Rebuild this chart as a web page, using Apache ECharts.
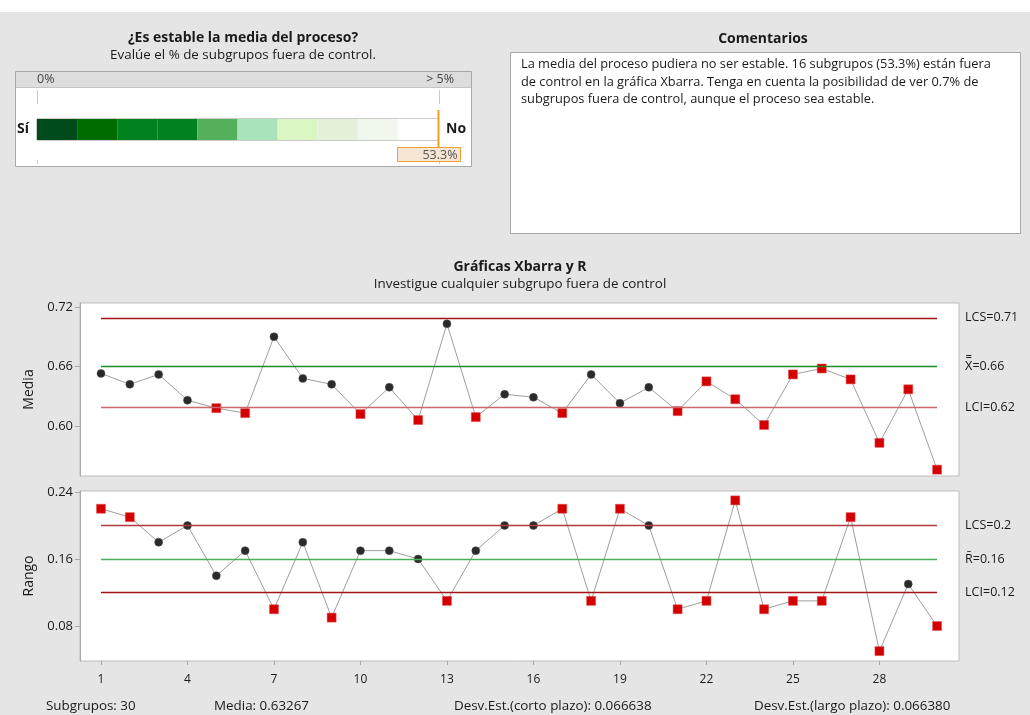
<!DOCTYPE html>
<html>
<head>
<meta charset="utf-8">
<script src="https://cdn.jsdelivr.net/npm/echarts@6/dist/echarts.min.js"></script>
<style>
  html, body { margin: 0; padding: 0; background: #e5e5e5; }
  #chart { width: 1030px; height: 715px; }
</style>
</head>
<body>
<div id="chart"></div>
<script>
// Subgroup means (Xbarra) and ranges (R), subgroups 1..30
const subgroups = [1,2,3,4,5,6,7,8,9,10,11,12,13,14,15,16,17,18,19,20,21,22,23,24,25,26,27,28,29,30];
const xbarValues = [0.653,0.642,0.652,0.626,0.618,0.613,0.690,0.648,0.642,0.612,0.639,0.606,0.703,0.609,0.632,
                    0.629,0.613,0.652,0.623,0.639,0.615,0.645,0.627,0.601,0.652,0.658,0.647,0.583,0.637,0.556];
const rangeValues = [0.22,0.21,0.18,0.20,0.14,0.17,0.10,0.18,0.09,0.17,0.17,0.16,0.11,0.17,0.20,
                     0.20,0.22,0.11,0.22,0.20,0.10,0.11,0.23,0.10,0.11,0.11,0.21,0.05,0.13,0.08];
// Subgroups flagged by the special-cause tests
const xbarFlagged = [5,6,10,12,14,17,21,22,23,24,25,26,27,28,29,30];
const rangeFlagged = [1,2,7,9,13,17,18,19,21,22,23,24,25,26,27,28,30];
// Control limits: [LCS, centre, LCI]
const xbarLimits = [0.709, 0.66, 0.619];
const rangeLimits = [0.20, 0.16, 0.12];
// Axis ticks
const xTicks = [1,4,7,10,13,16,19,22,25,28];
const xbarTicks = [0.60, 0.66, 0.72];
const rangeTicks = [0.08, 0.16, 0.24];
// Stability gauge: share of out-of-control subgroups against a 0%..>5% scale
const pctOut = 53.3;
const gaugeMax = 5;
const gaugeSteps = [0.5,0.5,0.5,0.5,0.5,0.5,0.5,0.5,0.5,0.5];
const gaugeColors = ['#004b1b','#006c00','#00821f','#00821f','#55b05c','#a9e3bb','#d9f6c3','#e4f0da','#f0f8ee','#ffffff'];
// Summary statistics
const statLabels = ['Subgrupos: ', 'Media: ', 'Desv.Est.(corto plazo): ', 'Desv.Est.(largo plazo): '];
const statValues = [subgroups.length, '0.63267', '0.066638', '0.066380'];
const commentLines = [
  'La media del proceso pudiera no ser estable. 16 subgrupos (53.3%) están fuera',
  'de control en la gráfica Xbarra. Tenga en cuenta la posibilidad de ver 0.7% de',
  'subgrupos fuera de control, aunque el proceso sea estable.'
];

const FONT = '"Open Sans", "Noto Sans", sans-serif';
const TXT = '#1a1a1a';
const fmt = v => String(parseFloat(v.toFixed(2)));

function pointItems(values, flagged) {
  return values.map((v, i) => {
    const bad = flagged.indexOf(i + 1) >= 0;
    return {
      value: [subgroups[i], v],
      symbol: bad ? 'rect' : 'circle',
      symbolSize: bad ? 9 : 8,
      itemStyle: { color: bad ? '#d40000' : '#2a2a2a', borderColor: bad ? '#e05050' : '#555', borderWidth: 0.5 }
    };
  });
}

function limitLines(limits, names, colors) {
  return limits.map((v, k) => [
    {
      coord: [subgroups[0], v],
      lineStyle: { color: colors[k], width: 1.3, type: 'solid', opacity: 1 },
      label: {
        show: true, position: 'end', distance: 28, formatter: names[k] + fmt(v),
        color: TXT, fontFamily: FONT, fontSize: 12.5
      }
    },
    { coord: [subgroups[subgroups.length - 1], v] }
  ]);
}

const xAxisBase = {
  type: 'value', min: 0.272, max: 30.76,
  splitLine: { show: false },
  axisLine: { show: false }
};
const yAxisBase = {
  type: 'value',
  splitLine: { show: false },
  axisLine: { show: true, lineStyle: { color: '#a8a8a8' } },
  axisTick: { show: true, length: 5, lineStyle: { color: '#a8a8a8' } },
  axisLabel: { color: TXT, fontFamily: FONT, fontSize: 13, margin: 7 },
  nameLocation: 'middle', nameGap: 44, nameRotate: 90,
  nameTextStyle: { color: TXT, fontFamily: FONT, fontSize: 14 }
};

const gaugeSeries = gaugeSteps.map((s, i) => ({
  type: 'bar', xAxisIndex: 2, yAxisIndex: 2, stack: 'gauge', barWidth: '100%',
  data: [s], itemStyle: { color: gaugeColors[i] }, silent: true, animation: false
}));

const chart = echarts.init(document.getElementById('chart'), null, { renderer: 'canvas' });

const option = {
  animation: false,
  backgroundColor: '#e5e5e5',
  grid: [
    { left: 80, top: 303, width: 879, height: 173, show: true, backgroundColor: '#ffffff', borderColor: '#bdbdbd', borderWidth: 1 },
    { left: 80, top: 491, width: 879, height: 170, show: true, backgroundColor: '#ffffff', borderColor: '#bdbdbd', borderWidth: 1 },
    { left: 37, top: 119, width: 401, height: 21, show: true, backgroundColor: '#ffffff', borderColor: '#9a9a9a', borderWidth: 1 }
  ],
  xAxis: [
    Object.assign({}, xAxisBase, { gridIndex: 0, axisTick: { show: false }, axisLabel: { show: false } }),
    Object.assign({}, xAxisBase, {
      gridIndex: 1,
      axisTick: { show: true, length: 4, lineStyle: { color: '#a8a8a8' }, customValues: xTicks },
      axisLabel: { show: true, customValues: xTicks, color: TXT, fontFamily: FONT, fontSize: 12, margin: 13 }
    }),
    { type: 'value', gridIndex: 2, min: 0, max: gaugeMax, show: false }
  ],
  yAxis: [
    Object.assign({}, yAxisBase, {
      gridIndex: 0, min: 0.5496, max: 0.724, name: 'Media',
      axisLabel: Object.assign({}, yAxisBase.axisLabel, { customValues: xbarTicks, formatter: v => v.toFixed(2) }),
      axisTick: Object.assign({}, yAxisBase.axisTick, { customValues: xbarTicks })
    }),
    Object.assign({}, yAxisBase, {
      gridIndex: 1, min: 0.0382, max: 0.2412, name: 'Rango',
      axisLabel: Object.assign({}, yAxisBase.axisLabel, { customValues: rangeTicks, formatter: v => v.toFixed(2) }),
      axisTick: Object.assign({}, yAxisBase.axisTick, { customValues: rangeTicks })
    }),
    { type: 'category', gridIndex: 2, data: [''], show: false }
  ],
  series: [
    {
      type: 'line', xAxisIndex: 0, yAxisIndex: 0, data: [], z: 1, silent: true,
      markLine: { symbol: 'none', silent: true, animation: false,
        data: limitLines(xbarLimits, ['LCS=', 'X\u033F=', 'LCI='], ['#a31515', '#1e8a28', '#c96a6a']) }
    },
    {
      type: 'line', xAxisIndex: 0, yAxisIndex: 0, z: 3,
      data: pointItems(xbarValues, xbarFlagged),
      lineStyle: { color: '#9e9e9e', width: 1 }
    },
    {
      type: 'line', xAxisIndex: 1, yAxisIndex: 1, data: [], z: 1, silent: true,
      markLine: { symbol: 'none', silent: true, animation: false,
        data: limitLines(rangeLimits, ['LCS=', 'R\u0304=', 'LCI='], ['#b03a3a', '#4caf5a', '#a31515']) }
    },
    {
      type: 'line', xAxisIndex: 1, yAxisIndex: 1, z: 3,
      data: pointItems(rangeValues, rangeFlagged),
      lineStyle: { color: '#9e9e9e', width: 1 }
    }
  ].concat(gaugeSeries)
};

chart.setOption(option);

// Indicator position on the gauge scale (values beyond the scale sit at its end)
const ind = chart.convertToPixel({ xAxisIndex: 2, yAxisIndex: 2 }, [Math.min(pctOut, gaugeMax), 0]);
const ix = Math.round(ind[0]) + 0.5;

const t = (x, y, text, extra, z) => ({
  type: 'text', x: x, y: y, silent: true, z: z || 10,
  style: Object.assign({ text: text, fill: TXT, font: '12px ' + FONT, textVerticalAlign: 'middle' }, extra || {})
});
const SUB = '13.4px ' + FONT;

const statX = [46, 214, 454, 754];
const graphics = [
  // top white band
  { type: 'rect', shape: { x: 0, y: 0, width: 1030, height: 12 }, style: { fill: '#ffffff' }, silent: true, z: -10 },

  // stability panel
  t(243, 38, '¿Es estable la media del proceso?', { font: 'bold 14px ' + FONT, textAlign: 'center' }),
  t(243, 55, 'Evalúe el % de subgrupos fuera de control.', { font: SUB, textAlign: 'center' }),
  { type: 'rect', shape: { x: 15.5, y: 71.5, width: 456, height: 95 }, style: { fill: '#ffffff', stroke: '#a8a8a8', lineWidth: 1 }, silent: true, z: -5 },
  { type: 'rect', shape: { x: 16, y: 72, width: 455, height: 15 }, style: { fill: '#dddddd' }, silent: true, z: -4 },
  { type: 'line', shape: { x1: 16, y1: 87.5, x2: 471, y2: 87.5 }, style: { stroke: '#c4c4c4', lineWidth: 1 }, silent: true, z: -4 },
  t(37, 79, '0%', { font: '12.5px ' + FONT, fill: '#444' }),
  t(454, 79, '> 5%', { font: '12.5px ' + FONT, fill: '#444', textAlign: 'right' }),
  { type: 'line', shape: { x1: 37.5, y1: 90, x2: 37.5, y2: 164 }, style: { stroke: '#c8c8c8', lineWidth: 1, lineDash: [14, 56] }, silent: true, z: -3 },
  { type: 'line', shape: { x1: 439.5, y1: 90, x2: 439.5, y2: 164 }, style: { stroke: '#c8c8c8', lineWidth: 1, lineDash: [14, 56] }, silent: true, z: -3 },
  t(17, 129, 'Sí', { font: 'bold 14px ' + FONT }),
  t(446, 129, 'No', { font: 'bold 14px ' + FONT }),
  { type: 'line', shape: { x1: ix, y1: 110, x2: ix, y2: 147 }, style: { stroke: '#f0a020', lineWidth: 2 }, silent: true, z: 50 },
  { type: 'rect', shape: { x: ix - 41, y: 147.5, width: 63, height: 14 }, style: { fill: '#f6e5d3', stroke: '#f0a030', lineWidth: 1 }, silent: true, z: 50 },
  t(ix + 19, 155, pctOut.toFixed(1) + '%', { fill: '#555', textAlign: 'right', font: '12.5px ' + FONT }, 60),

  // comments panel
  t(763, 39, 'Comentarios', { font: 'bold 14px ' + FONT, textAlign: 'center' }),
  { type: 'rect', shape: { x: 510.5, y: 52.5, width: 510, height: 181 }, style: { fill: '#ffffff', stroke: '#a8a8a8', lineWidth: 1 }, silent: true, z: -5 },
  t(521, 64, commentLines[0], { font: '12.8px ' + FONT }),
  t(521, 82, commentLines[1], { font: '12.8px ' + FONT }),
  t(521, 99, commentLines[2], { font: '12.8px ' + FONT }),

  // chart titles
  t(520, 267, 'Gráficas Xbarra y R', { font: 'bold 14px ' + FONT, textAlign: 'center' }),
  t(520, 284, 'Investigue cualquier subgrupo fuera de control', { font: SUB, textAlign: 'center' })
];
statLabels.forEach((lab, i) => graphics.push(t(statX[i], 706, lab + statValues[i], { font: SUB })));

chart.setOption({ graphic: { elements: graphics } });
</script>
</body>
</html>
